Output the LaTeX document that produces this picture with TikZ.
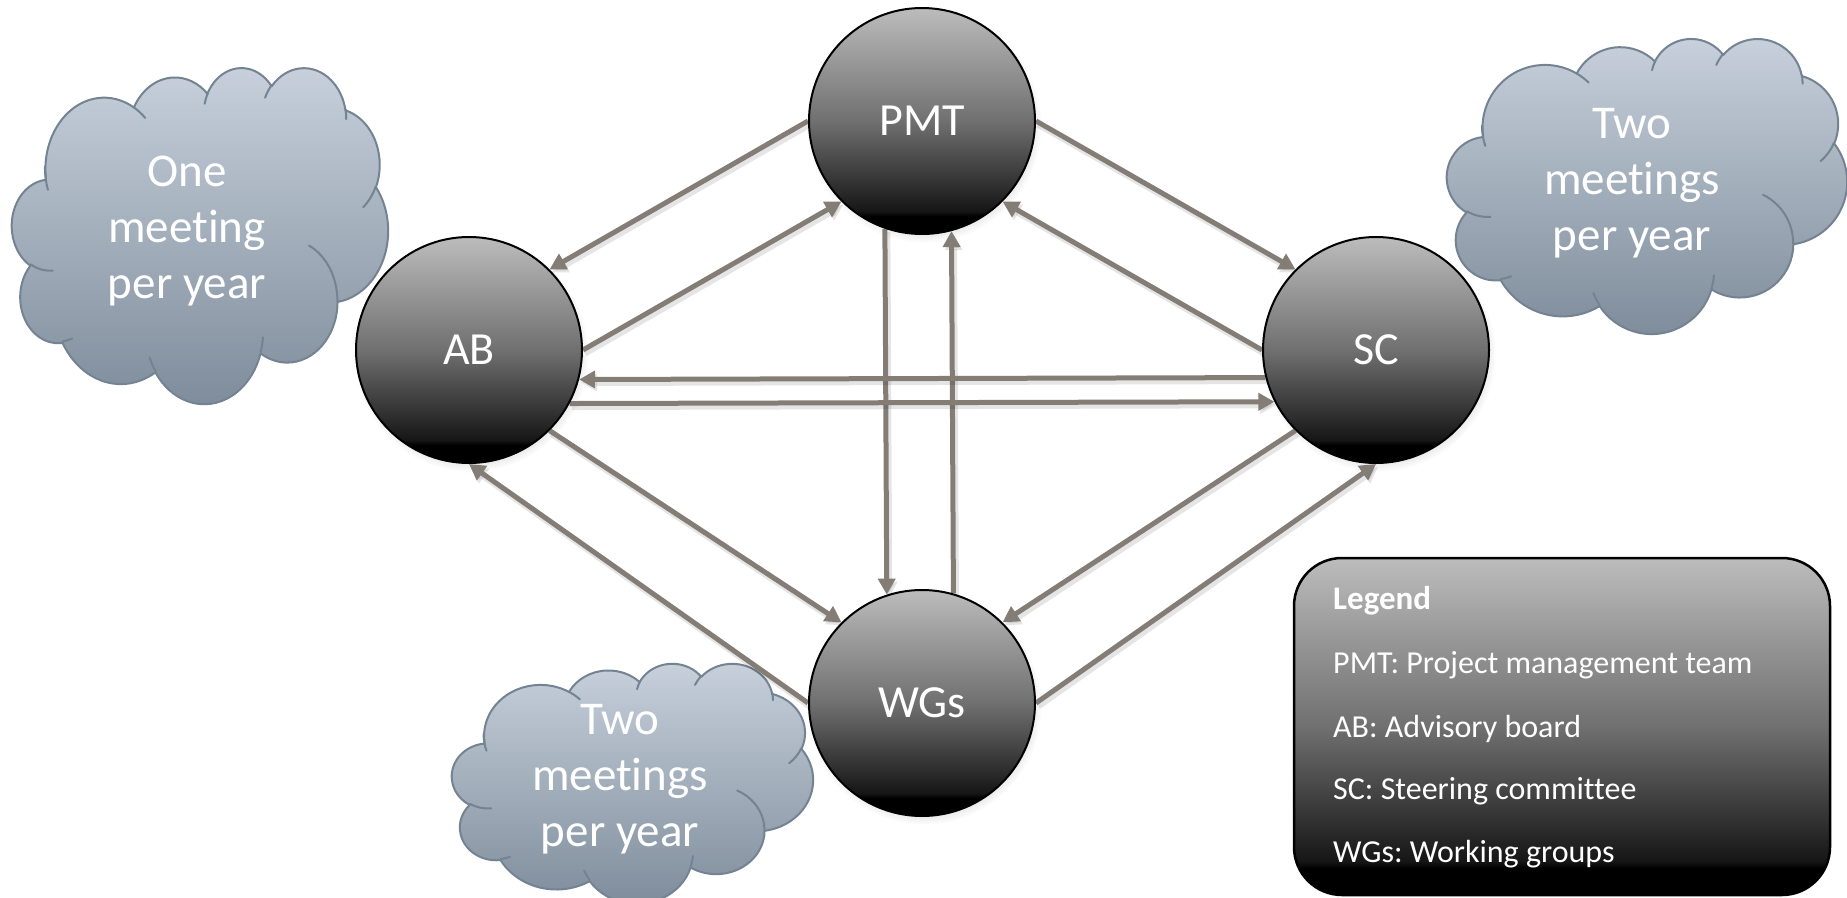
\documentclass[tikz,border=0pt]{standalone}
\usepackage{fontspec}
\setmainfont{Carlito}[Ligatures=NoCommon]
\frenchspacing
\usetikzlibrary{arrows.meta,shadows,fadings}

\definecolor{arrowgray}{RGB}{131,125,118}
\definecolor{cloudtop}{RGB}{200,209,220}
\definecolor{cloudbot}{RGB}{125,139,154}
\definecolor{cloudedge}{RGB}{116,131,146}
\definecolor{gA}{RGB}{22,22,22}
\definecolor{gB}{RGB}{112,112,112}
\definecolor{gC}{RGB}{188,188,188}

\pgfdeclarelayer{under}
\pgfsetlayers{under,main}

% grey-to-black fill of the bodies and of the legend (path spans 25bp..75bp)
\pgfdeclareverticalshading{ballgrad}{100bp}{color(0bp)=(black); color(25bp)=(black); color(29bp)=(black); color(30bp)=(gA); color(50bp)=(gB); color(75bp)=(gC); color(100bp)=(gC)}

% ray angle on an ellipse -> parametric angle
\pgfmathdeclarefunction{ellang}{3}{%
  \begingroup
    \pgfmathparse{atan2((#1)*sin(#3),(#2)*cos(#3))-(#3)}%
    \edef\ellD{\pgfmathresult}%
    \pgfmathparse{(#3)+\ellD-360*round(\ellD/360)}%
    \pgfmathsmuggle\pgfmathresult
  \endgroup}

% one elliptical lobe: radii, ray start angle, sweep
\newcommand\lobe[4]{arc[x radius=#1, y radius=#2, start angle={ellang(#1,#2,#3)}, end angle={ellang(#1,#2,(#3)+(#4))}]}

% cloud outline on a 43.2 x 43.2 grid, y pointing down
\newcommand\cloudoutline{%
  (3.900,14.370)
  \lobe{6.753}{9.190}{-190.4875}{123.7805}
  \lobe{5.333}{7.267}{-144.1024}{89.9452}
  \lobe{4.365}{5.945}{-145.8079}{99.7230}
  \lobe{4.857}{6.595}{-130.9861}{117.2417}
  \lobe{5.333}{7.273}{-78.7089}{109.0269}
  \lobe{6.775}{9.220}{-46.2673}{130.2690}
  \lobe{5.785}{7.867}{0.6250}{114.0333}
  \lobe{6.752}{9.215}{22.4516}{115.1726}
  \lobe{7.720}{10.543}{66.2426}{75.7110}
  \lobe{4.360}{5.918}{-274.9421}{146.7356}
  \lobe{4.345}{5.945}{-246.8285}{152.5189}
  -- cycle}

% the short creases inside the cloud
\newcommand\cloudcreases{%
  (4.693,26.177) \lobe{4.345}{5.945}{86.7420}{26.4295}
  (6.928,34.899) \lobe{4.360}{5.918}{73.6105}{11.4475}
  (16.478,39.090) \lobe{6.752}{9.215}{137.6242}{14.0811}
  (28.827,34.751) \lobe{6.752}{9.215}{6.4533}{15.9984}
  (34.129,22.954) \lobe{5.785}{7.867}{-70.2924}{70.9174}
  (41.798,15.354) \lobe{5.333}{7.273}{30.3180}{27.7515}
  (38.324,5.426) \lobe{4.857}{6.595}{-13.7443}{14.8589}
  (29.078,3.952) \lobe{4.857}{6.595}{-149.1815}{18.1954}
  (22.141,4.720) \lobe{4.365}{5.945}{-163.4943}{17.6864}
  (14.000,5.192) \lobe{6.753}{9.190}{-66.7070}{12.3194}
  (4.127,15.789) \lobe{6.753}{9.190}{155.6495}{24.9335}}

% cloud: left, top, width, height
\newcommand\meetingcloud[4]{%
  \pgfmathsetmacro\cloudu{#3/43.2}%
  \pgfmathsetmacro\cloudv{#4/43.2}%
  \begin{scope}[shift={(#1,#2)}, x=\cloudu pt, y=-\cloudv pt]
    \path[cloudbody] \cloudoutline;
    \draw[cloudcrease] \cloudcreases;
  \end{scope}}

\tikzset{
  cloudbody/.style={top color=cloudtop, bottom color=cloudbot, draw=cloudedge, line width=2pt, line join=round},
  cloudcrease/.style={draw=cloudedge, line width=2pt, line cap=round},
  cloudtext/.style={text=white, align=center, font=\fontsize{47}{56}\selectfont},
  ball/.style={circle, draw=black, line width=2pt, minimum size=226pt, inner sep=0pt,
    shading=ballgrad, text=white, font=\fontsize{46}{53}\selectfont,
    circular drop shadow={shadow xshift=2pt, shadow yshift=-4pt, shadow scale=1.04, opacity=0.3}},
  flow/.style={draw=arrowgray, line width=5pt, -{Triangle[length=16pt,width=17pt]},
    preaction={draw=black, opacity=0.10, line width=7pt, transform canvas={shift={(2pt,-3pt)}}}},
  legendbox/.style={rectangle, rounded corners=48pt, draw=black, line width=2.5pt,
    shading=ballgrad, minimum width=536pt, minimum height=337pt},
  legendtext/.style={anchor=base west, inner sep=0pt, text=white, font=\fontsize{32}{38}\selectfont}
}

\begin{document}
\begin{tikzpicture}[x=1pt, y=-1pt]
  \useasboundingbox (0,0) rectangle (1847,897);

  % bodies
  \node[ball] (PMT) at (922,121) {PMT};
  \node[ball] (AB) at (469,350) {AB};
  \node[ball] (SC) at (1376,350) {SC};
  \node[ball] (WGs) at (922,703) {WGs};

  \begin{pgfonlayer}{under}
    % meeting-frequency clouds
    \meetingcloud{12}{67}{376}{336}
    \meetingcloud{1447}{38}{400}{295}
    \meetingcloud{452}{663}{361}{240}

    \node[cloudtext] (ab-note) at (187,231) {One\\meeting\\per year};
    \node[cloudtext] (sc-note) at (1632,183) {Two\\meetings\\per year};
    \node[cloudtext] (wg-note) at (620,779) {Two\\meetings\\per year};

    % connectors
    \draw[flow] (PMT.west) -- (AB.45);
    \draw[flow] (AB.east) -- (PMT.225);
    \draw[flow] (PMT.east) -- (SC.135);
    \draw[flow] (SC.west) -- (PMT.-45);
    \draw[flow] (PMT.251.1) -- (WGs.108.9);
    \draw[flow] (WGs.74.7) -- (PMT.285.3);
    \draw[flow] (SC.194.2) -- (AB.345.8);
    \draw[flow] (AB.332.9) -- (SC.207.1);
    \draw[flow] (AB.-45) -- (WGs.135);
    \draw[flow] (WGs.west) -- (AB.south);
    \draw[flow] (SC.-135) -- (WGs.45);
    \draw[flow] (WGs.east) -- (SC.south);
  \end{pgfonlayer}

  % legend
  \node[legendbox] (legend) at (1562,726.5) {};
  \node[legendtext, font=\bfseries\fontsize{33}{38}\selectfont] (lg-title) at (1333,609) {Legend};
  \node[legendtext] (lg-pmt) at (1333,673) {PMT: Project management team};
  \node[legendtext] (lg-ab) at (1333,737) {AB: Advisory board};
  \node[legendtext] (lg-sc) at (1333,799) {SC: Steering committee};
  \node[legendtext] (lg-wg) at (1333,862) {WGs: Working groups};
\end{tikzpicture}
\end{document}
